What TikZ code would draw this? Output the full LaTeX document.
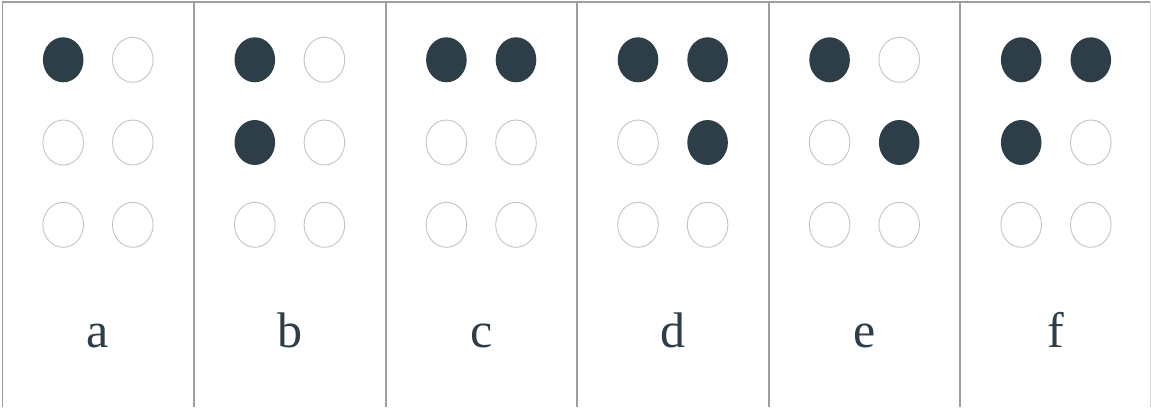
\documentclass[tikz,border=0pt]{standalone}
\usepackage{fontspec}
\setmainfont{Liberation Serif}
\definecolor{dotdark}{HTML}{2D3E48}
\definecolor{dotedge}{HTML}{C4C4C4}
\definecolor{rule}{HTML}{9E9E9E}
\tikzset{
  full/.style={fill=dotdark},
  hollow/.style={draw=dotedge, line width=0.9pt, fill=white},
  panelrule/.style={draw=rule, line width=1.4pt},
  letter/.style={anchor=base, text=dotdark, inner sep=0pt, font=\fontsize{50}{60}\selectfont}
}
\begin{document}
\begin{tikzpicture}[x=1pt,y=-1pt]
\useasboundingbox (0,0) rectangle (1151,407);
\fill[white] (0,0) rectangle (1151,407);
% panel rules
\draw[panelrule] (2,2) -- (1150,2);
\foreach \xx in {2.5,194,386,577,769,960}
  \draw[panelrule] (\xx,2) -- (\xx,407);
\draw[draw=rule!40, line width=1pt] (1150,2) -- (1150,407);
% cells: letter / list of filled dots (1..6)
\foreach \i/\lab/\filled in {0/a/{1},1/b/{1,2},2/c/{1,4},3/d/{1,4,5},4/e/{1,5},5/f/{1,2,4}}{
  \pgfmathsetmacro{\cx}{98+191.6*\i}
  \foreach \d/\dx/\dy in {1/-34.8/59.8,2/-34.8/142.5,3/-34.8/224.8,4/34.8/59.8,5/34.8/142.5,6/34.8/224.8}{
    \def\sty{hollow}
    \foreach \f in \filled {\ifnum\f=\d\relax\global\def\sty{full}\fi}
    \path[\sty] (\cx+\dx,\dy) ellipse [x radius=20.3, y radius=22.5];
    \global\def\sty{hollow}
  }
  \node[letter] (L\lab) at (\cx,347.3) {\lab};
}
\end{tikzpicture}
\end{document}
